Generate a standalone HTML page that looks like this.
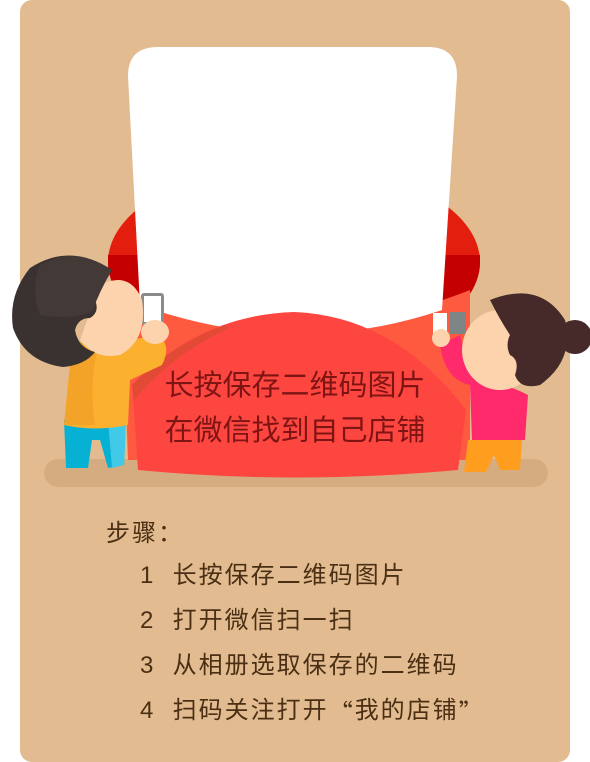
<!DOCTYPE html>
<html lang="zh"><head><meta charset="utf-8">
<style>
html,body{margin:0;padding:0;background:#fff;}
body{width:590px;height:762px;position:relative;overflow:hidden;font-family:"Liberation Sans","Noto Sans CJK SC",sans-serif;}
svg{position:absolute;left:0;top:0;}
.t{position:absolute;white-space:nowrap;color:#4a2f14;font-size:24px;line-height:30px;height:30px;letter-spacing:2px;}
.b{position:absolute;white-space:nowrap;color:#7e1414;font-size:29px;line-height:34px;left:0;width:590px;text-align:center;}
.cj{font-family:"Noto Sans CJK SC",sans-serif;}
.q{font-family:"Noto Sans CJK SC",sans-serif;line-height:1px;display:inline-block;vertical-align:top;height:30px;line-height:30px;}
</style></head><body>
<svg width="590" height="762">
  <rect x="20" y="0" width="550" height="762" rx="12" fill="#e2bc90"/>
  <rect x="44" y="459" width="504" height="28" rx="14" fill="#d5ac80"/>
  <g>
    <ellipse cx="294" cy="262" rx="186" ry="98" fill="#e41e0e"/>
    <path d="M108 255 L480 255 L480 262 A186 98 0 0 1 294 360 A186 98 0 0 1 108 262 Z" fill="#c50000"/>
  </g>
  <path d="M122 290 Q294 360 470 290 L470 460 L128 460 Z" fill="#fe5a40"/>
  <path d="M158 47 L428 47 Q457 47 457 76 L442 310 Q294 360 140 305 L128 76 Q128 47 158 47 Z" fill="#ffffff"/>
  <path d="M132 385 Q200 315 294 312 Q395 316 466 410 L458 470 Q294 485 138 470 Z" fill="#fe4641"/>
  <path d="M132 385 Q170 345 225 325 L230 328 Q175 352 134 400 Z" fill="#e24a36"/>
  <g>
    <path d="M64 420 L126 420 L124 465 L108 468 L100 440 L92 440 L88 468 L66 468 Z" fill="#06b1d4"/>
    <path d="M108 420 L126 420 L124 465 L112 468 Z" fill="#43c9e8"/>
    <path d="M72 345 Q100 335 130 340 L158 335 Q172 345 162 365 L130 380 L128 425 Q95 432 64 425 Z" fill="#fbb02e"/>
    <path d="M72 345 L100 340 Q88 380 95 425 L64 425 Z" fill="#f3a328"/>
    <rect x="141" y="293" width="23" height="32" rx="3" fill="#8b8b8b"/>
    <rect x="144" y="296" width="17" height="26" fill="#fff"/>
    <ellipse cx="155" cy="332" rx="14" ry="12" fill="#fdd3ae"/>
    <path d="M100 285 Q130 270 142 300 Q148 340 120 355 Q95 360 80 340 Z" fill="#fdd3ae"/>
    <path d="M112 270 Q70 242 30 268 Q8 295 13 328 Q25 362 63 367 Q85 365 95 352 Q78 348 75 330 Q78 318 90 318 Q100 312 95 300 Q100 285 112 270 Z" fill="#3a3230"/>
    <path d="M112 270 Q75 245 40 265 Q30 290 40 315 Q70 320 92 312 Q100 290 112 270 Z" fill="#433936"/>
  </g>
  <g>
    <path d="M468 440 L522 440 L520 470 L500 470 L494 455 L486 472 L464 472 Z" fill="#ff9d1f"/>
    <path d="M440 345 Q445 380 470 385 L472 440 L525 440 L528 395 Q510 385 480 380 Q465 360 460 335 Z" fill="#ff2a6c"/>
    <rect x="450" y="312" width="16" height="22" fill="#7f8585"/>
    <rect x="433" y="313" width="14" height="22" fill="#fff"/>
    <circle cx="441" cy="338" r="9" fill="#fdd3ae"/>
    <ellipse cx="500" cy="350" rx="38" ry="40" fill="#fdd3ae"/>
    <path d="M490 300 Q540 280 565 320 Q575 360 540 385 Q520 390 515 375 Q520 360 510 355 Q505 345 510 335 Q500 320 490 300 Z" fill="#452a29"/>
    <circle cx="575" cy="337" r="17" fill="#452a29"/>
  </g>
</svg>
<div class="b" style="top:369px;">长按保存二维码图片</div>
<div class="b" style="top:414px;">在微信找到自己店铺</div>
<div class="t cj" style="left:106px;top:516px;">步骤：</div>
<div class="t" style="left:140px;top:561px;">1&nbsp;&nbsp;长按保存二维码图片</div>
<div class="t" style="left:140px;top:606px;">2&nbsp;&nbsp;打开微信扫一扫</div>
<div class="t" style="left:140px;top:651px;">3&nbsp;&nbsp;从相册选取保存的二维码</div>
<div class="t" style="left:140px;top:696px;">4&nbsp;&nbsp;扫码关注打开<span class="q">“</span>我的店铺<span class="q">”</span></div>
</body></html>
